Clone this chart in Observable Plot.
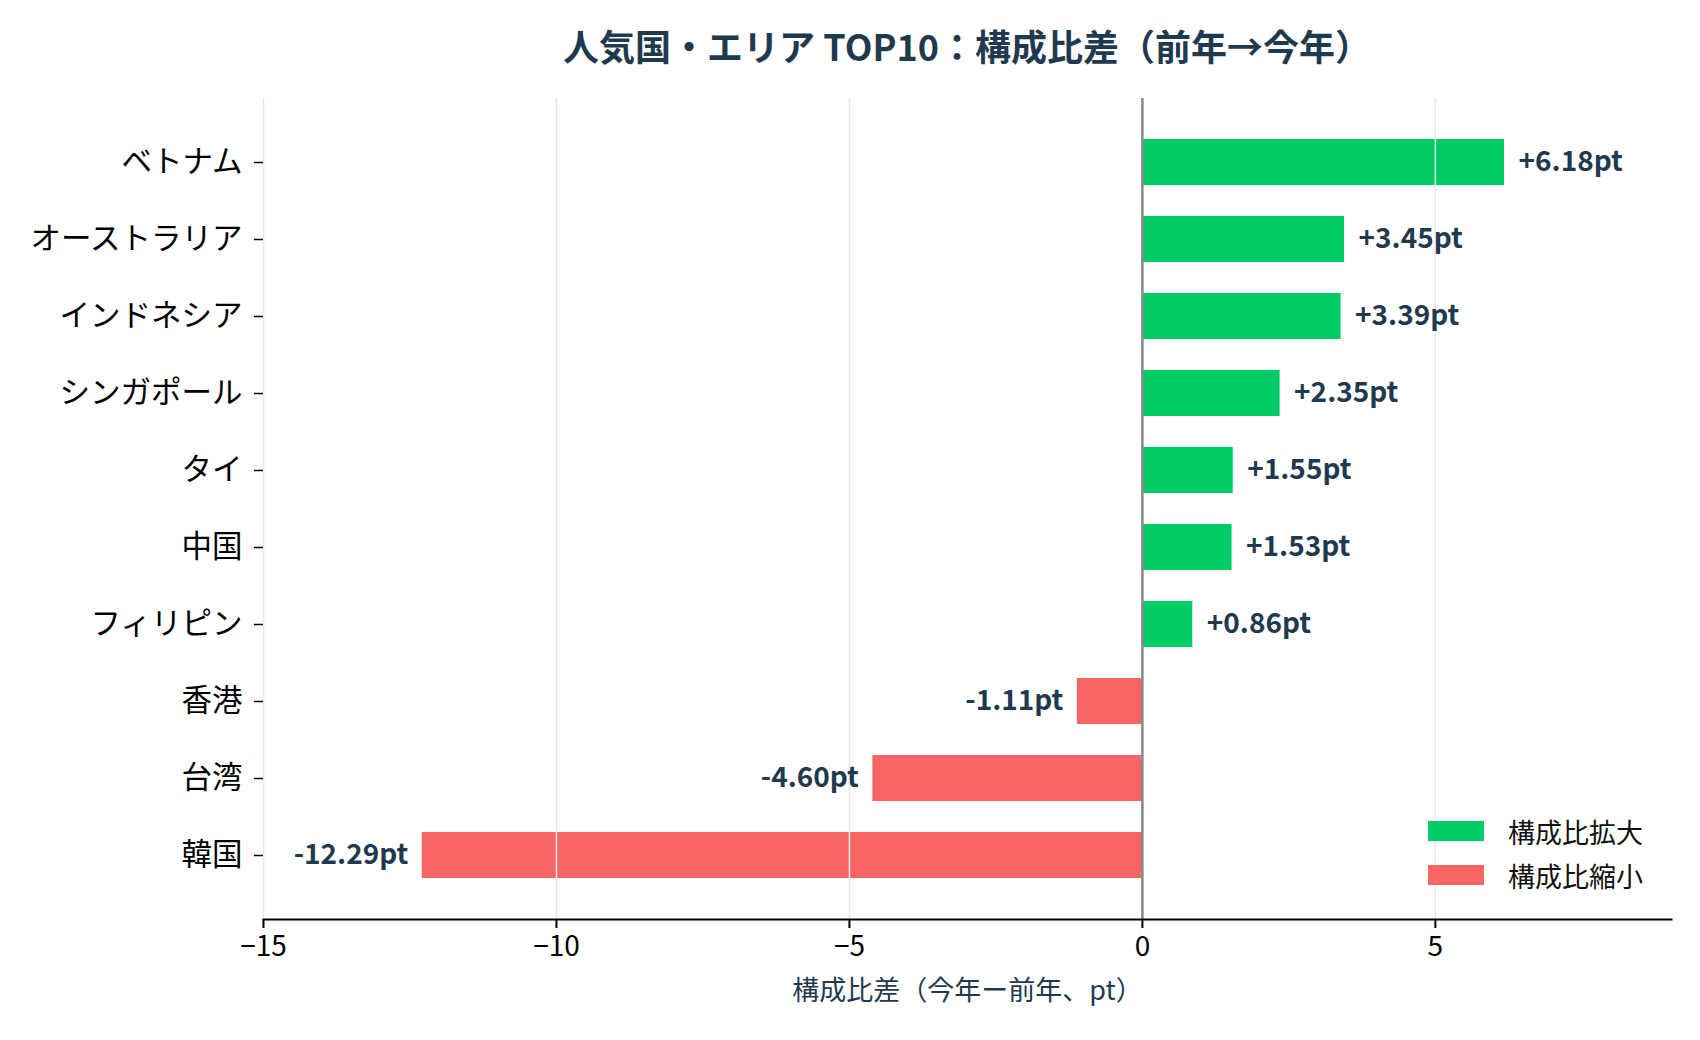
<!DOCTYPE html>
<html>
<head>
<meta charset="utf-8">
<script src="https://cdn.jsdelivr.net/npm/d3@7"></script>
<script src="https://cdn.jsdelivr.net/npm/@observablehq/plot@0.6"></script>
<style>
  body { margin: 0; background: #fff; }
  #wrap { position: relative; width: 1700px; height: 1040px; font-family: "Noto Sans CJK JP", "Noto Sans", sans-serif; }
  #title { position: absolute; left: 263px; width: 1408px; top: 22px; text-align: center; font-size: 36px; font-weight: 700; color: #1f3a4f; line-height: 46px; }
  #legend { position: absolute; left: 1428px; top: 809px; font-size: 27px; color: #111; }
  .item { display: flex; align-items: center; height: 44px; }
  .sw { width: 56px; height: 20px; margin-right: 24px; }
</style>
</head>
<body>
<div id="wrap">
  <div id="title"></div>
  <div id="chart"></div>
  <div id="legend"></div>
</div>
<script>
const titleText = "人気国・エリア TOP10：構成比差（前年→今年）";
const xLabel = "構成比差（今年ー前年、pt）";
const countries = ["ベトナム","オーストラリア","インドネシア","シンガポール","タイ","中国","フィリピン","香港","台湾","韓国"];
const values = [6.18, 3.45, 3.39, 2.35, 1.55, 1.53, 0.86, -1.11, -4.60, -12.29];
const xTicks = [-15, -10, -5, 0, 5];
const legendLabels = ["構成比拡大", "構成比縮小"];
const colorUp = "#00cc66";
const colorDown = "#f76565";

const data = countries.map((c, i) => ({country: c, value: values[i]}));
const pos = data.filter(d => d.value >= 0);
const neg = data.filter(d => d.value < 0);
const fmt = v => (v >= 0 ? "+" : "-") + Math.abs(v).toFixed(2) + "pt";

document.getElementById("title").textContent = titleText;

const legend = document.getElementById("legend");
[[legendLabels[0], colorUp], [legendLabels[1], colorDown]].forEach(([label, color]) => {
  const item = document.createElement("div");
  item.className = "item";
  const sw = document.createElement("div");
  sw.className = "sw";
  sw.style.background = color;
  const t = document.createElement("span");
  t.textContent = label;
  item.appendChild(sw);
  item.appendChild(t);
  legend.appendChild(item);
});

const labelStyle = {fontSize: 28, fontWeight: 700, fill: "#1f3a4f"};

const chart = Plot.plot({
  width: 1700,
  height: 1040,
  marginLeft: 263,
  marginRight: 29,
  marginTop: 98,
  marginBottom: 121,
  style: {fontFamily: '"Noto Sans CJK JP", "Noto Sans", sans-serif', color: "#000", background: "#fff"},
  x: {domain: [-15, 9.03]},
  y: {domain: countries, paddingInner: 0.4, paddingOuter: 0.47},
  marks: [
    Plot.barX(data, {y: "country", x: "value", fill: d => d.value >= 0 ? colorUp : colorDown}),
    Plot.ruleX(xTicks, {stroke: "#e8e8e8", strokeWidth: 1.5}),
    Plot.ruleX([0], {stroke: "#888", strokeWidth: 2.5}),
    Plot.frame({anchor: "bottom", stroke: "#000", strokeWidth: 2}),
    Plot.axisY({tickSize: 9, tickPadding: 12, fontSize: 30.5, label: null, stroke: "#000", strokeWidth: 1.5}),
    Plot.axisX({ticks: xTicks, tickSize: 9, tickPadding: 8, fontSize: 28, label: null, stroke: "#000", strokeWidth: 2}),
    Plot.text(pos, {y: "country", x: "value", text: d => fmt(d.value), textAnchor: "start", dx: 14, ...labelStyle}),
    Plot.text(neg, {y: "country", x: "value", text: d => fmt(d.value), textAnchor: "end", dx: -14, ...labelStyle}),
    Plot.text([xLabel], {frameAnchor: "bottom", dy: 80, fontSize: 27, fill: "#1f3a4f"})
  ]
});
document.getElementById("chart").appendChild(chart);
</script>
</body>
</html>
